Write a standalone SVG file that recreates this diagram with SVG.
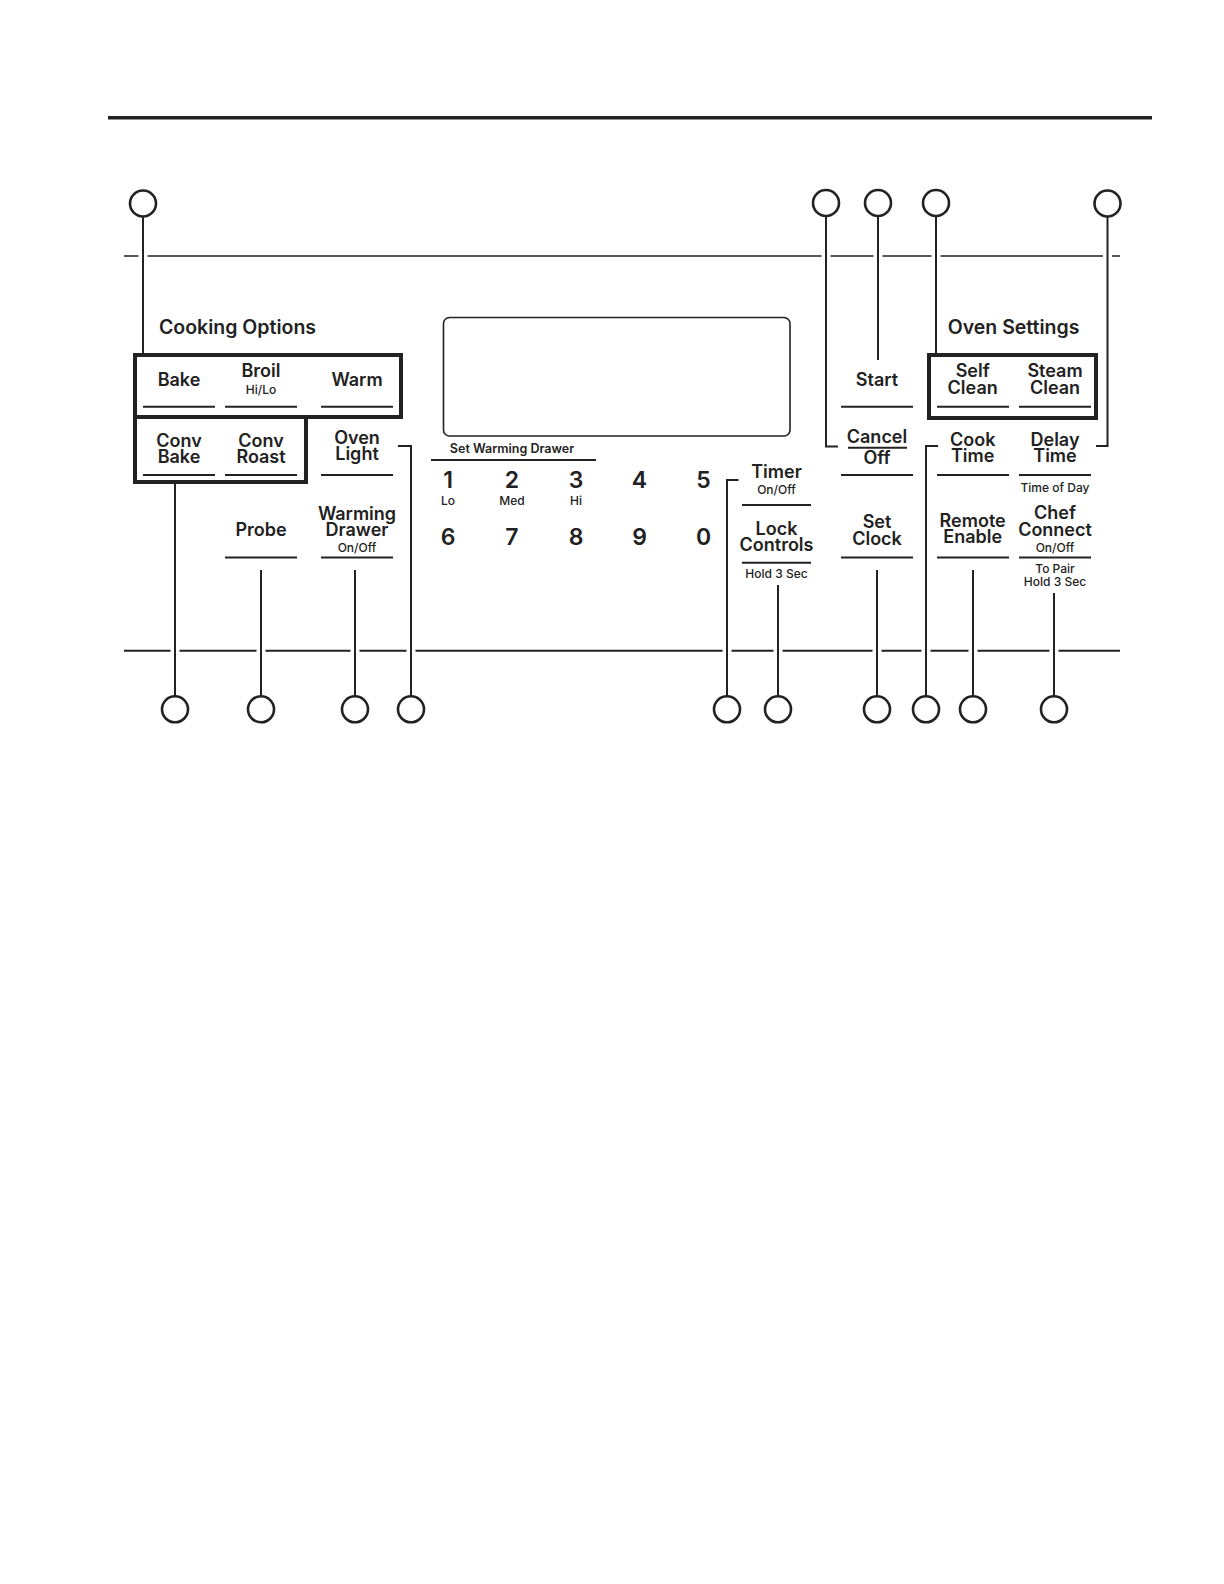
<svg xmlns="http://www.w3.org/2000/svg" width="1224" height="1584" viewBox="0 0 1224 1584">
<style>
text{font-family:Inter,"Liberation Sans",sans-serif;font-weight:600;fill:#222;text-anchor:middle}
.h{font-size:19.5px;text-anchor:start}
.b{font-size:18px}
.s{font-size:12px;font-weight:500}
.n{font-size:23px}
.m{font-size:12.5px}
.ul{stroke:#222;stroke-width:2;fill:none}
.box{stroke:#222;stroke-width:4;fill:none}
.c{stroke:#222;stroke-width:2;fill:none}
.gap{stroke:#fff;stroke-width:9}
.dot{stroke:#222;stroke-width:2.6;fill:#fff}
</style>
<rect width="1224" height="1584" fill="#fff"/>
<g id="rules">
<line x1="108" y1="117.8" x2="1152" y2="117.8" stroke="#222" stroke-width="3.6"/>
<line x1="124" y1="256" x2="1120" y2="256" stroke="#222" stroke-width="1.4"/>
<line x1="124" y1="650.7" x2="1120" y2="650.7" stroke="#222" stroke-width="2"/>
</g>
<g id="display"><rect x="443.5" y="317.5" width="346.5" height="118.5" rx="6" fill="none" stroke="#222" stroke-width="1.6"/></g>
<g id="cooking-options">
<text class="h" x="159" y="334.3">Cooking Options</text>
<path class="box" d="M135,355H401V417H135Z M135,417V482H306V417"/>
</g>
<g id="bake"><text class="b" x="179" y="386">Bake</text><line class="ul" x1="143" y1="406.7" x2="215" y2="406.7"/></g>
<g id="broil"><text class="b" x="261" y="376.7">Broil<tspan class="s" x="261" dy="17">Hi/Lo</tspan></text><line class="ul" x1="225" y1="406.7" x2="297" y2="406.7"/></g>
<g id="warm"><text class="b" x="357" y="386">Warm</text><line class="ul" x1="321" y1="406.7" x2="393" y2="406.7"/></g>
<g id="conv-bake"><text class="b" x="179" y="446.7">Conv<tspan x="179" dy="15.8">Bake</tspan></text><line class="ul" x1="143" y1="475" x2="215" y2="475"/></g>
<g id="conv-roast"><text class="b" x="261" y="446.7">Conv<tspan x="261" dy="15.8">Roast</tspan></text><line class="ul" x1="225" y1="475" x2="297" y2="475"/></g>
<g id="oven-light"><text class="b" x="357" y="443.5">Oven<tspan x="357" dy="16.5">Light</tspan></text><line class="ul" x1="321" y1="475" x2="393" y2="475"/></g>
<g id="probe"><text class="b" x="261" y="536">Probe</text><line class="ul" x1="225" y1="557.5" x2="297" y2="557.5"/></g>
<g id="warming-drawer"><text class="b" x="357" y="520">Warming<tspan x="357" dy="15.7">Drawer</tspan><tspan class="s" x="357" dy="15.9">On/Off</tspan></text><line class="ul" x1="321" y1="557.5" x2="393" y2="557.5"/></g>
<g id="keypad">
<text class="m" x="512" y="453.3">Set Warming Drawer</text>
<line class="ul" x1="431" y1="460" x2="596" y2="460"/>
<text class="n" x="448" y="488.3">1</text><text class="n" x="512" y="488.3">2</text><text class="n" x="576" y="488.3">3</text><text class="n" x="639.5" y="488.3">4</text><text class="n" x="703.5" y="488.3">5</text>
<text class="s" x="448" y="505">Lo</text><text class="s" x="512" y="505">Med</text><text class="s" x="576" y="505">Hi</text>
<text class="n" x="448" y="545">6</text><text class="n" x="512" y="545">7</text><text class="n" x="576" y="545">8</text><text class="n" x="639.5" y="545">9</text><text class="n" x="703.5" y="545">0</text>
</g>
<g id="timer"><text class="b" x="776.5" y="478.3">Timer<tspan class="s" x="776.5" dy="15.7">On/Off</tspan></text><line class="ul" x1="742" y1="505" x2="811" y2="505"/></g>
<g id="lock-controls"><text class="b" x="776.5" y="535">Lock<tspan x="776.5" dy="15.7">Controls</tspan></text><line class="ul" x1="742" y1="562.7" x2="811" y2="562.7"/><text class="s" x="776.5" y="577.7">Hold 3 Sec</text></g>
<g id="start"><text class="b" x="877" y="386">Start</text><line class="ul" x1="841" y1="406.7" x2="913" y2="406.7"/></g>
<g id="cancel-off"><text class="b" x="877" y="442.7">Cancel<tspan x="877" dy="21.6">Off</tspan></text><line class="ul" x1="848" y1="447.8" x2="907" y2="447.8"/><line class="ul" x1="841" y1="475" x2="913" y2="475"/></g>
<g id="set-clock"><text class="b" x="877" y="528.3">Set<tspan x="877" dy="16.7">Clock</tspan></text><line class="ul" x1="841" y1="557.5" x2="913" y2="557.5"/></g>
<g id="oven-settings">
<text class="h" x="947.7" y="334.3">Oven Settings</text>
<rect class="box" x="929" y="355" width="167" height="63"/>
</g>
<g id="self-clean"><text class="b" x="972.7" y="376.7">Self<tspan x="972.7" dy="17.3">Clean</tspan></text><line class="ul" x1="937" y1="406.7" x2="1009" y2="406.7"/></g>
<g id="steam-clean"><text class="b" x="1055" y="376.7">Steam<tspan x="1055" dy="17.3">Clean</tspan></text><line class="ul" x1="1019" y1="406.7" x2="1091" y2="406.7"/></g>
<g id="cook-time"><text class="b" x="972.7" y="446">Cook<tspan x="972.7" dy="16.3">Time</tspan></text><line class="ul" x1="937" y1="475" x2="1009" y2="475"/></g>
<g id="delay-time"><text class="b" x="1055" y="446">Delay<tspan x="1055" dy="16.3">Time</tspan></text><line class="ul" x1="1019" y1="475" x2="1091" y2="475"/><text class="s" x="1055" y="491.7">Time of Day</text></g>
<g id="remote-enable"><text class="b" x="972.7" y="526.7">Remote<tspan x="972.7" dy="16.6">Enable</tspan></text><line class="ul" x1="937" y1="557.5" x2="1009" y2="557.5"/></g>
<g id="chef-connect"><text class="b" x="1055" y="519.3">Chef<tspan x="1055" dy="16.7">Connect</tspan><tspan class="s" x="1055" dy="15.7">On/Off</tspan></text><line class="ul" x1="1019" y1="557.5" x2="1091" y2="557.5"/><text class="s" x="1055" y="573.3">To Pair<tspan x="1055" dy="12.4">Hold 3 Sec</tspan></text></g>
<g id="connectors">
<g class="gaps">
<line class="gap" x1="143" y1="253" x2="143" y2="259"/><line class="gap" x1="826" y1="253" x2="826" y2="259"/><line class="gap" x1="878" y1="253" x2="878" y2="259"/><line class="gap" x1="936" y1="253" x2="936" y2="259"/><line class="gap" x1="1107.5" y1="253" x2="1107.5" y2="259"/>
<line class="gap" x1="175" y1="647" x2="175" y2="654"/><line class="gap" x1="261" y1="647" x2="261" y2="654"/><line class="gap" x1="355" y1="647" x2="355" y2="654"/><line class="gap" x1="411" y1="647" x2="411" y2="654"/><line class="gap" x1="727" y1="647" x2="727" y2="654"/><line class="gap" x1="778" y1="647" x2="778" y2="654"/><line class="gap" x1="877" y1="647" x2="877" y2="654"/><line class="gap" x1="926" y1="647" x2="926" y2="654"/><line class="gap" x1="973" y1="647" x2="973" y2="654"/><line class="gap" x1="1054" y1="647" x2="1054" y2="654"/>
</g>
<path class="c" d="M143,216V353"/>
<path class="c" d="M826,216V446.5H838"/>
<path class="c" d="M878,216V360"/>
<path class="c" d="M936,216V353"/>
<path class="c" d="M1107.5,216V446H1096"/>
<path class="c" d="M175,484V696"/>
<path class="c" d="M261,570V696"/>
<path class="c" d="M355,570V696"/>
<path class="c" d="M398,446H411V696"/>
<path class="c" d="M738.5,480H727V696"/>
<path class="c" d="M778,585V696"/>
<path class="c" d="M877,570V696"/>
<path class="c" d="M938,446H926V696"/>
<path class="c" d="M973,570V696"/>
<path class="c" d="M1054,593V696"/>
<circle class="dot" cx="143" cy="203.5" r="13"/><circle class="dot" cx="826" cy="203" r="13"/><circle class="dot" cx="878" cy="203" r="13"/><circle class="dot" cx="936" cy="203" r="13"/><circle class="dot" cx="1107.5" cy="203.5" r="13"/>
<circle class="dot" cx="175" cy="709.3" r="13"/><circle class="dot" cx="261" cy="709.3" r="13"/><circle class="dot" cx="355" cy="709.3" r="13"/><circle class="dot" cx="411" cy="709.3" r="13"/><circle class="dot" cx="727" cy="709.3" r="13"/><circle class="dot" cx="778" cy="709.3" r="13"/><circle class="dot" cx="877" cy="709.3" r="13"/><circle class="dot" cx="926" cy="709.3" r="13"/><circle class="dot" cx="973" cy="709.3" r="13"/><circle class="dot" cx="1054" cy="709.3" r="13"/>
</g>
</svg>
